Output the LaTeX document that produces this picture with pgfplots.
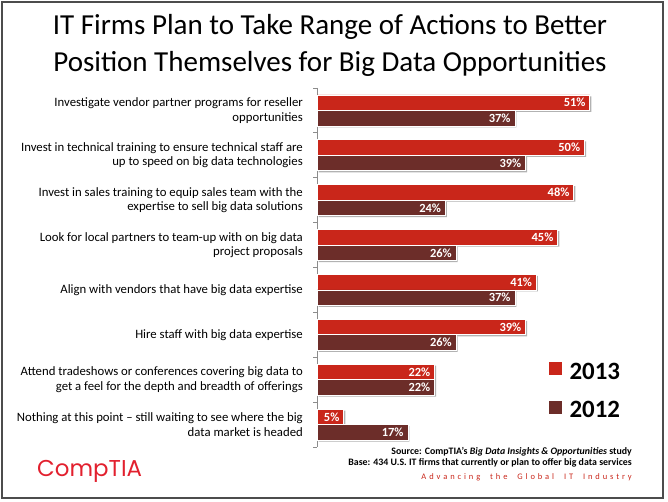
\documentclass[border=0pt]{standalone}
\usepackage{fontspec}
\setmainfont{Carlito}
\newfontfamily\logofont{Poppins}
\usepackage{pgfplots}
\pgfplotsset{compat=1.18}
\definecolor{red13}{HTML}{C9261A}
\definecolor{brown12}{HTML}{6C2D29}
\definecolor{axgray}{HTML}{8C8C8C}
\definecolor{logored}{HTML}{E2202E}
\def\spaceout#1{\ifx#1\relax\else#1\kern2.9bp\expandafter\spaceout\fi}
\begin{document}
\begin{tikzpicture}[x=1bp,y=1bp]
\path[use as bounding box] (0,0) rectangle (668,502);
\draw[black!70, line width=1.2bp] (2,4) rectangle (663,500);
\node[anchor=base, inner sep=0pt, font=\fontsize{29.1}{29.1}\selectfont] at (330,467) {IT Firms Plan to Take Range of Actions to Better};
\node[anchor=base, inner sep=0pt, font=\fontsize{29.1}{29.1}\selectfont] at (330,430) {Position Themselves for Big Data Opportunities};

\begin{axis}[
  at={(317bp,55bp)}, anchor=south west,
  scale only axis, width=321bp, height=359bp,
  xbar, bar width=15.5bp,
  xmin=0, xmax=60, ymin=-0.5, ymax=7.5, y dir=reverse,
  axis x line=none, axis y line=left,
  y axis line style={-, draw=axgray, line width=0.8bp},
  ytick={0,...,7},
  yticklabels={
    {Investigate vendor partner programs for reseller\\opportunities},
    {Invest in technical training to ensure technical staff are\\up to speed on big data technologies},
    {Invest in sales training to equip sales team with the\\expertise to sell big data solutions},
    {Look for local partners to team-up with on big data\\project proposals},
    {Align with vendors that have big data expertise},
    {Hire staff with big data expertise},
    {Attend tradeshows or conferences covering big data to\\get a feel for the depth and breadth of offerings},
    {Nothing at this point -- still waiting to see where the big\\data market is headed}},
  yticklabel style={align=right, font=\fontsize{12.8}{14.5}\selectfont, inner sep=0pt, anchor=east, xshift=-10bp},
  major tick length=4bp, tick align=outside,
  y tick style={draw=none},
  extra y ticks={-0.5,0.5,...,7.5},
  extra y tick labels={},
  extra y tick style={y tick style={draw=axgray, line width=0.8bp}},
  point meta=x,
  /pgf/number format/assume math mode=true,
  nodes near coords={\pgfmathprintnumber{\pgfplotspointmeta}\%},
  every node near coord/.append style={anchor=east, xshift=-4bp, text=white, inner sep=0pt, font=\bfseries\fontsize{12.5}{12.5}\selectfont},
  legend style={at={(0.7227,0.237)}, anchor=north west, draw=none, fill=none, inner sep=0pt,
    nodes={inner sep=0pt}, font=\bfseries\fontsize{25}{25}\selectfont, row sep=20bp},
  legend cell align=left,
]
\addplot[forget plot, fill=red13, draw=white, line width=0.8bp, bar shift=7.75bp,
  preaction={draw=none, fill=black!30, transform canvas={xshift=1.5bp, yshift=-1.5bp}}]
  coordinates {(51,0) (50,1) (48,2) (45,3) (41,4) (39,5) (22,6) (5,7)};
\addplot[forget plot, fill=brown12, draw=white, line width=0.8bp, bar shift=-7.75bp,
  preaction={draw=none, fill=black!30, transform canvas={xshift=1.5bp, yshift=-1.5bp}}]
  coordinates {(37,0) (39,1) (24,2) (26,3) (37,4) (26,5) (22,6) (17,7)};
\addlegendimage{legend image code/.code={\fill[red13] (0bp,-2.5bp) rectangle (12bp,9.5bp); \path (20bp,0bp);}}
\addlegendentry{2013}
\addlegendimage{legend image code/.code={\fill[brown12] (0bp,-2.5bp) rectangle (12bp,9.5bp); \path (20bp,0bp);}}
\addlegendentry{2012}
\end{axis}

\node[anchor=base east, inner sep=0pt, font=\bfseries\fontsize{9.9}{9.9}\selectfont] at (632,47) {Source: CompTIA's \textit{Big Data Insights \& Opportunities} study};
\node[anchor=base east, inner sep=0pt, font=\bfseries\fontsize{9.9}{9.9}\selectfont] at (632,36) {Base: 434 U.S. IT firms that currently or plan to offer big data services};
\node[anchor=base east, inner sep=0pt, text=red13, font=\fontsize{8.5}{8.5}\selectfont] at (634.9,22) {\spaceout Advancing\relax\kern7bp\spaceout the\relax\kern7bp\spaceout Global\relax\kern7bp\spaceout IT\relax\kern7bp\spaceout Industry\relax};
\node[anchor=base west, inner sep=0pt, text=logored, font=\logofont\fontsize{23}{23}\selectfont] at (37,25) {CompTIA};
\end{tikzpicture}
\end{document}
